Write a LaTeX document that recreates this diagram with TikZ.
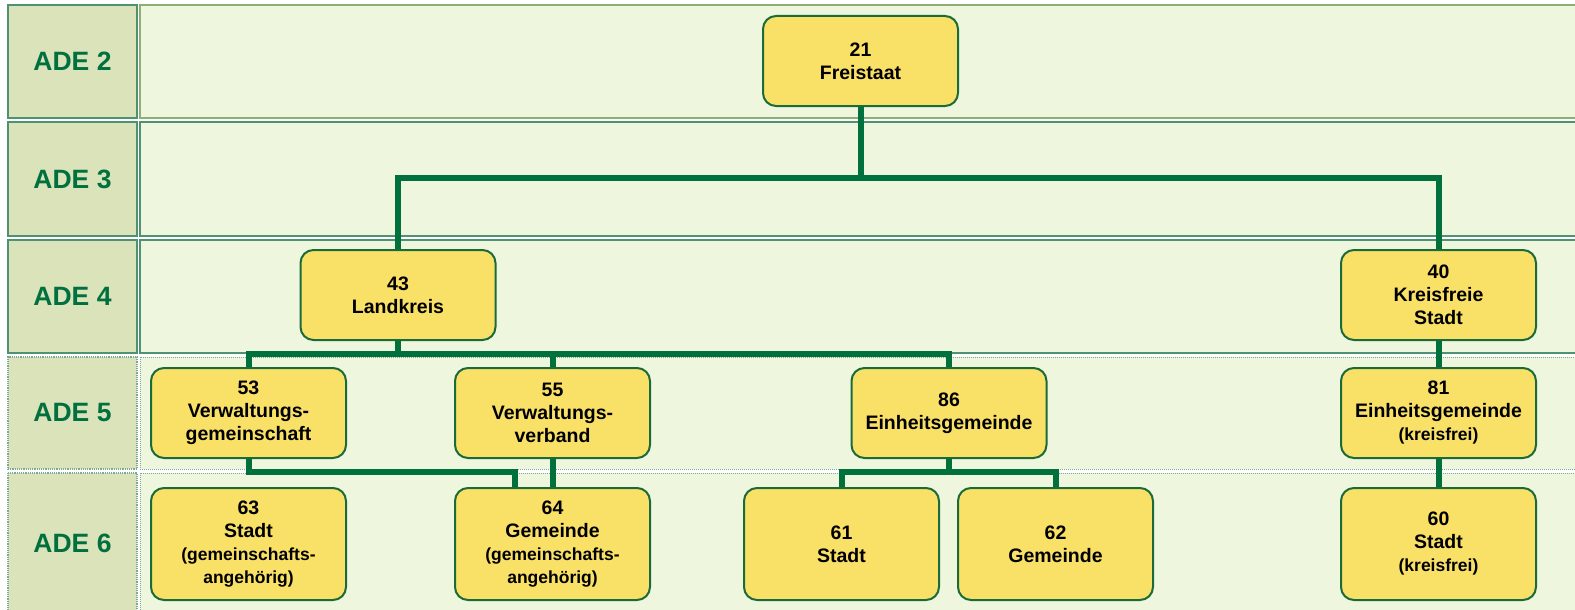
\documentclass[tikz,border=0pt]{standalone}
\usepackage{fontspec}
\setmainfont{Liberation Sans}
\definecolor{lblfill}{HTML}{DAE3BA}
\definecolor{rowfill}{HTML}{EEF6DE}
\definecolor{rowline}{HTML}{4E9272}
\definecolor{oliveline}{HTML}{8FAE72}
\definecolor{dotline}{HTML}{7FA896}
\definecolor{adetext}{HTML}{00703F}
\definecolor{boxfill}{HTML}{F9E168}
\definecolor{boxline}{HTML}{1B6B3A}
\definecolor{conn}{HTML}{00703C}
\newcommand{\smalltxt}{\fontsize{17.5}{22}\selectfont}
\begin{document}
\begin{tikzpicture}[x=1pt,y=-1pt,
  lbl/.style={draw=rowline, line width=1.2pt, fill=lblfill, minimum width=129pt, inner sep=0pt,
    text=adetext, font=\fontsize{26.5}{30}\selectfont\bfseries},
  dotlbl/.style={lbl, draw=dotline, densely dotted},
  rowbox/.style={draw=rowline, line width=1.2pt, fill=rowfill},
  dotrow/.style={draw=dotline, line width=1pt, densely dotted, fill=rowfill},
  unit/.style={draw=boxline, line width=2pt, fill=boxfill, rounded corners=13pt,
    minimum width=195pt, minimum height=90pt, inner sep=0pt, align=center,
    font=\fontsize{19.5}{23}\selectfont\bfseries},
  tall/.style={unit, minimum height=112pt},
  link/.style={draw=conn, line width=6pt}]
\useasboundingbox (0,0) rectangle (1575,610);
\clip (0,0) rectangle (1575,610);
% rows
\draw[rowbox, draw=oliveline] (140,5) rectangle (1590,118);
\draw[rowbox] (140,122) rectangle (1590,236);
\draw[rowbox] (140,240) rectangle (1590,353);
\draw[dotrow] (140,357) rectangle (1590,469);
\draw[dotrow] (140,473) rectangle (1590,625);
% row labels
\node[lbl, minimum height=113pt] (ade2) at (72.5,61.5) {ADE 2};
\node[lbl, minimum height=114pt] (ade3) at (72.5,179) {ADE 3};
\node[lbl, minimum height=113pt] (ade4) at (72.5,296.5) {ADE 4};
\node[dotlbl, minimum height=112pt] (ade5) at (72.5,413) {ADE 5};
\coordinate (ade6top) at (8,473);
\draw[dotlbl] (ade6top) rectangle (137,625);
\node[text=adetext, font=\fontsize{26.5}{30}\selectfont\bfseries] (ade6) at (72.5,543) {ADE 6};
% units
\node[unit] (n21) at (860.5,61) {21\\Freistaat};
\node[unit] (n43) at (398,295) {43\\Landkreis};
\node[unit] (n40) at (1438.5,295) {40\\Kreisfreie\\Stadt};
\node[unit] (n53) at (248.5,413) {53\\Verwaltungs-\\gemeinschaft};
\node[unit] (n55) at (552.5,413) {55\\Verwaltungs-\\verband};
\node[unit] (n86) at (949,413) {86\\Einheitsgemeinde};
\node[unit] (n81) at (1438.5,413) {81\\Einheitsgemeinde\\{\smalltxt(kreisfrei)}};
\node[tall] (n63) at (248.5,544) {63\\Stadt\\{\smalltxt(gemeinschafts-}\\{\smalltxt angehörig)}};
\node[tall] (n64) at (552.5,544) {64\\Gemeinde\\{\smalltxt(gemeinschafts-}\\{\smalltxt angehörig)}};
\node[tall] (n61) at (841.5,544) {61\\Stadt};
\node[tall] (n62) at (1055.5,544) {62\\Gemeinde};
\node[tall] (n60) at (1438.5,544) {60\\Stadt\\{\smalltxt(kreisfrei)}};
% connectors
\coordinate (b1) at (860.5,178);
\draw[link] (n21) -- (b1);
\draw[link] (b1) -| (n43);
\draw[link] (b1) -| (n40);
\coordinate (b2) at (398,354);
\draw[link] (n43) -- (b2);
\draw[link] (b2) -| (n53);
\draw[link] (b2) -| (n55);
\draw[link] (b2) -| (n86);
\draw[link] (n40) -- (n81);
\draw[link] (n81) -- (n60);
\coordinate (c64) at (515,472);
\draw[link] (n53) |- (c64) -- (c64 |- n64.north);
\draw[link] (n55) -- (n64);
\coordinate (b3) at (949,472);
\draw[link] (n86) -- (b3);
\draw[link] (b3) -| (n61);
\draw[link] (b3) -| (n62);
\end{tikzpicture}
\end{document}
